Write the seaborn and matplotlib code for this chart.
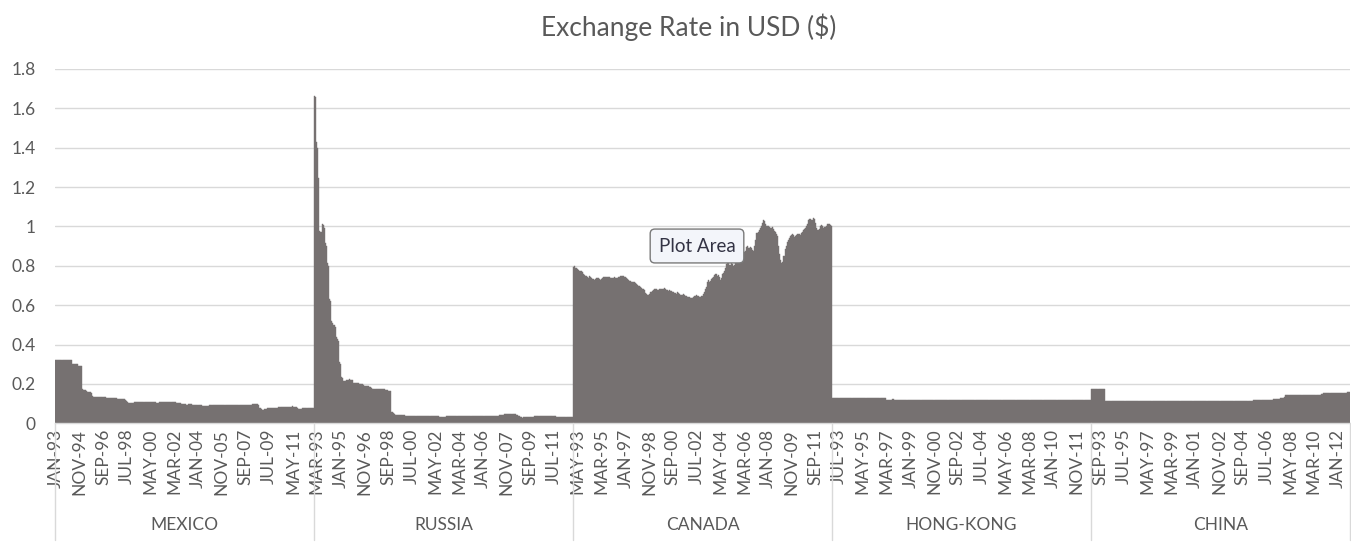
import numpy as np
import pandas as pd
import matplotlib.pyplot as plt
import matplotlib.transforms as mtransforms
import seaborn as sns

# monthly exchange rate in USD, Jan-93 .. Dec-12 (one row per year)
countries = ["MEXICO", "RUSSIA", "CANADA", "HONG-KONG", "CHINA"]

mexico = (
    [0.32] * 12
    + [0.32, 0.32, 0.32, 0.32, 0.30, 0.30, 0.30, 0.30, 0.30, 0.29, 0.29, 0.29]
    + [0.29, 0.175, 0.17, 0.17, 0.17, 0.165, 0.16, 0.16, 0.16, 0.155, 0.14, 0.135]
    + [0.135, 0.135, 0.134, 0.134, 0.134, 0.134, 0.134, 0.133, 0.133, 0.133, 0.132, 0.128]
    + [0.127, 0.127, 0.127, 0.127, 0.126, 0.126, 0.126, 0.126, 0.126, 0.125, 0.125, 0.125]
    + [0.125, 0.124, 0.124, 0.123, 0.121, 0.118, 0.115, 0.11, 0.105, 0.103, 0.103, 0.104]
    + [0.105, 0.106, 0.106, 0.107, 0.107, 0.107, 0.107, 0.108, 0.108, 0.108, 0.107, 0.107]
    + [0.107, 0.107, 0.107, 0.106, 0.106, 0.107, 0.107, 0.108, 0.108, 0.106, 0.105, 0.105]
    + [0.106, 0.106, 0.106, 0.108, 0.108, 0.109, 0.109, 0.108, 0.108, 0.107, 0.107, 0.108]
    + [0.108, 0.108, 0.108, 0.107, 0.104, 0.103, 0.102, 0.102, 0.101, 0.10, 0.10, 0.10]
    + [0.098, 0.095, 0.095, 0.096, 0.097, 0.097, 0.096, 0.095, 0.093, 0.092, 0.092, 0.092]
    + [0.092, 0.092, 0.092, 0.091, 0.09, 0.09, 0.09, 0.09, 0.09, 0.09, 0.09, 0.091]
    + [0.091, 0.092, 0.092, 0.092, 0.093, 0.093, 0.093, 0.094, 0.094, 0.094, 0.094, 0.094]
    + [0.094, 0.094, 0.093, 0.093, 0.093, 0.093, 0.093, 0.093, 0.093, 0.093, 0.093, 0.093]
    + [0.093] * 12
    + [0.094, 0.095, 0.095, 0.096, 0.098, 0.10, 0.10, 0.099, 0.095, 0.08, 0.077, 0.074]
    + [0.07, 0.069, 0.071, 0.074, 0.076, 0.076, 0.077, 0.077, 0.077, 0.077, 0.077, 0.078]
    + [0.079, 0.079, 0.08, 0.081, 0.081, 0.081, 0.081, 0.081, 0.081, 0.081, 0.082, 0.082]
    + [0.082, 0.083, 0.083, 0.085, 0.086, 0.085, 0.085, 0.083, 0.079, 0.075, 0.074, 0.074]
    + [0.075, 0.077, 0.078, 0.078, 0.077, 0.076, 0.076, 0.076, 0.077, 0.077, 0.077, 0.077]
)

russia = (
    [1.665, 1.66, 1.43, 1.40, 1.245, 0.975, 0.97, 1.01, 1.005, 0.99, 0.915, 0.90]
    + [0.815, 0.80, 0.63, 0.62, 0.52, 0.51, 0.50, 0.49, 0.44, 0.43, 0.42, 0.31]
    + [0.30, 0.235, 0.23, 0.215, 0.215, 0.215, 0.222, 0.222, 0.223, 0.222, 0.222, 0.22]
    + [0.207, 0.206, 0.205, 0.205, 0.204, 0.203, 0.202, 0.20, 0.198, 0.196, 0.192, 0.19]
    + [0.19, 0.19, 0.188, 0.186, 0.182, 0.178, 0.176, 0.175, 0.175, 0.175, 0.175, 0.175]
    + [0.175, 0.174, 0.174, 0.173, 0.172, 0.172, 0.17, 0.168, 0.168, 0.166, 0.165, 0.055]
    + [0.055, 0.05, 0.045, 0.04, 0.04, 0.04, 0.04, 0.04, 0.04, 0.04, 0.04, 0.04]
    + [0.038] * 12
    + [0.038, 0.038, 0.037, 0.037, 0.037, 0.037, 0.037, 0.037, 0.037, 0.037, 0.037, 0.037]
    + [0.036, 0.036, 0.036, 0.036, 0.036, 0.036, 0.036, 0.036, 0.032, 0.031, 0.031, 0.031]
    + [0.031, 0.032, 0.035, 0.036, 0.036, 0.036, 0.036, 0.036, 0.036, 0.036, 0.036, 0.036]
    + [0.037] * 12
    + [0.037] * 12
    + [0.037, 0.037, 0.038, 0.038, 0.038, 0.039, 0.039, 0.039, 0.039, 0.039, 0.039, 0.039]
    + [0.039, 0.039, 0.039, 0.04, 0.04, 0.04, 0.04, 0.04, 0.045, 0.045, 0.045, 0.045]
    + [0.045, 0.045, 0.045, 0.045, 0.045, 0.045, 0.045, 0.044, 0.042, 0.037, 0.035, 0.034]
    + [0.03, 0.029, 0.03, 0.031, 0.032, 0.033, 0.033, 0.034, 0.034, 0.034, 0.034, 0.034]
    + [0.035, 0.035, 0.035, 0.035, 0.035, 0.035, 0.035, 0.035, 0.035, 0.035, 0.035, 0.035]
    + [0.035, 0.035, 0.036, 0.036, 0.036, 0.036, 0.036, 0.035, 0.034, 0.034, 0.034, 0.034]
    + [0.034, 0.034, 0.034, 0.034, 0.034, 0.034, 0.034, 0.03, 0.03, 0.032, 0.033, 0.034]
)

canada = (
    [0.795, 0.80, 0.79, 0.79, 0.785, 0.78, 0.775, 0.775, 0.77, 0.76, 0.755, 0.75]
    + [0.75, 0.745, 0.74, 0.748, 0.745, 0.74, 0.735, 0.728, 0.732, 0.738, 0.74, 0.738]
    + [0.735, 0.73, 0.735, 0.74, 0.742, 0.745, 0.745, 0.742, 0.745, 0.745, 0.74, 0.74]
    + [0.738, 0.74, 0.742, 0.74, 0.738, 0.74, 0.742, 0.745, 0.748, 0.75, 0.748, 0.745]
    + [0.745, 0.74, 0.735, 0.728, 0.725, 0.722, 0.72, 0.72, 0.718, 0.715, 0.71, 0.705]
    + [0.70, 0.70, 0.69, 0.685, 0.682, 0.68, 0.675, 0.66, 0.655, 0.65, 0.655, 0.665]
    + [0.668, 0.672, 0.675, 0.68, 0.682, 0.68, 0.678, 0.678, 0.68, 0.682, 0.68, 0.68]
    + [0.685, 0.68, 0.678, 0.675, 0.672, 0.675, 0.672, 0.67, 0.668, 0.665, 0.66, 0.655]
    + [0.665, 0.66, 0.655, 0.65, 0.65, 0.652, 0.655, 0.65, 0.648, 0.645, 0.642, 0.64]
    + [0.636, 0.635, 0.638, 0.64, 0.645, 0.648, 0.65, 0.648, 0.645, 0.64, 0.642, 0.645]
    + [0.655, 0.668, 0.68, 0.69, 0.72, 0.73, 0.72, 0.725, 0.735, 0.74, 0.745, 0.755]
    + [0.76, 0.75, 0.755, 0.742, 0.73, 0.74, 0.76, 0.765, 0.775, 0.79, 0.81, 0.82]
    + [0.815, 0.805, 0.82, 0.81, 0.80, 0.805, 0.815, 0.825, 0.84, 0.85, 0.848, 0.86]
    + [0.87, 0.872, 0.868, 0.875, 0.895, 0.90, 0.89, 0.892, 0.895, 0.89, 0.88, 0.875]
    + [0.90, 0.93, 0.965, 0.97, 0.98, 0.99, 1.00, 1.02, 1.035, 1.03, 1.01, 1.00]
    + [1.00, 1.00, 0.995, 0.99, 0.995, 0.985, 0.975, 0.97, 0.96, 0.95, 0.90, 0.86]
    + [0.83, 0.815, 0.82, 0.85, 0.885, 0.90, 0.92, 0.93, 0.94, 0.95, 0.955, 0.96]
    + [0.955, 0.945, 0.95, 0.955, 0.96, 0.96, 0.955, 0.965, 0.97, 0.98, 0.985, 0.99]
    + [1.00, 1.01, 1.035, 1.04, 1.04, 1.035, 1.045, 1.04, 1.02, 0.99, 0.98, 0.98]
    + [0.985, 1.00, 1.005, 1.00, 0.99, 0.995, 1.00, 1.01, 1.015, 1.01, 1.005, 1.00]
)

hong_kong = (
    [0.129] * 12
    + [0.129] * 12
    + [0.129] * 12
    + [0.129] * 12
    + [0.129, 0.129, 0.12, 0.12, 0.12, 0.12, 0.12, 0.12, 0.122, 0.12, 0.12, 0.12]
    + [0.12] * 12 * 15
)

china = (
    [0.172] * 12
    + [0.172] + [0.113] * 11
    + [0.113] * 12 * 10
    + [0.113, 0.113, 0.113, 0.113, 0.113, 0.113, 0.116, 0.117, 0.117, 0.117, 0.118, 0.118]
    + [0.118, 0.118, 0.118, 0.119, 0.119, 0.119, 0.119, 0.119, 0.119, 0.12, 0.12, 0.12]
    + [0.12, 0.122, 0.123, 0.124, 0.125, 0.125, 0.125, 0.126, 0.126, 0.128, 0.13, 0.135]
    + [0.142, 0.142, 0.143, 0.143, 0.143, 0.144, 0.144, 0.144, 0.144, 0.144, 0.144, 0.144]
    + [0.144] * 12
    + [0.144, 0.144, 0.144, 0.144, 0.144, 0.145, 0.145, 0.146, 0.146, 0.147, 0.148, 0.152]
    + [0.152, 0.152, 0.153, 0.153, 0.153, 0.153, 0.154, 0.154, 0.155, 0.155, 0.155, 0.156]
    + [0.156, 0.156, 0.156, 0.156, 0.156, 0.156, 0.156, 0.156, 0.156, 0.157, 0.157, 0.157]
)

tick_labels = [
    ["JAN-93", "NOV-94", "SEP-96", "JUL-98", "MAY-00", "MAR-02", "JAN-04", "NOV-05", "SEP-07", "JUL-09", "MAY-11"],
    ["MAR-93", "JAN-95", "NOV-96", "SEP-98", "JUL-00", "MAY-02", "MAR-04", "JAN-06", "NOV-07", "SEP-09", "JUL-11"],
    ["MAY-93", "MAR-95", "JAN-97", "NOV-98", "SEP-00", "JUL-02", "MAY-04", "MAR-06", "JAN-08", "NOV-09", "SEP-11"],
    ["JUL-93", "MAY-95", "MAR-97", "JAN-99", "NOV-00", "SEP-02", "JUL-04", "MAY-06", "MAR-08", "JAN-10", "NOV-11"],
    ["SEP-93", "JUL-95", "MAY-97", "MAR-99", "JAN-01", "NOV-02", "SEP-04", "JUL-06", "MAY-08", "MAR-10", "JAN-12"],
]

series = [mexico, russia, canada, hong_kong, china]
for s in series:
    assert len(s) == 240, len(s)

df = pd.DataFrame({
    "pos": np.arange(240 * len(series)),
    "rate": np.concatenate(series),
    "country": np.repeat(countries, 240),
})

sns.set_theme(style="white")
plt.rcParams["font.family"] = ["Lato", "DejaVu Sans"]
text_color = "#595959"
grid_color = "#d9d9d9"
bar_color = "#767171"

fig = plt.figure(figsize=(13.51, 5.44), dpi=100)
ax = fig.add_axes([55 / 1351, (544 - 423.3) / 544, 1295 / 1351, 354.3 / 544])

sns.barplot(data=df, x="pos", y="rate", native_scale=True, width=1.0,
            color=bar_color, saturation=1, errorbar=None,
            edgecolor=bar_color, linewidth=0.3, ax=ax)

ax.set_xlim(-0.5, len(df) - 0.5)
ax.set_ylim(0, 1.8)
yt = np.round(np.arange(0, 1.81, 0.2), 1)
ax.set_yticks(yt)
ax.set_yticklabels([f"{v:g}" for v in yt], color=text_color, fontsize=12.5)
ax.set_xticks(np.arange(0, len(df), 22))
ax.set_xticklabels(sum(tick_labels, []), rotation=90, color=text_color, fontsize=12.5)
ax.tick_params(axis="y", length=0, pad=14)
ax.tick_params(axis="x", length=0, pad=4)
ax.set_xlabel("")
ax.set_ylabel("")

ax.yaxis.grid(True, color=grid_color, lw=1)
ax.set_axisbelow(True)
for side in ["top", "right", "left"]:
    ax.spines[side].set_visible(False)
ax.spines["bottom"].set_color(grid_color)
ax.spines["bottom"].set_linewidth(1)

# group separators and country labels under the month labels
trans = mtransforms.blended_transform_factory(ax.transData, ax.transAxes)
for i, name in enumerate(countries):
    left = i * 240 - 0.5
    ax.plot([left, left], [0, -0.33], transform=trans, color=grid_color,
            lw=1, clip_on=False)
    ax.text(left + 120, -0.287, name, transform=trans, ha="center",
            va="center", color=text_color, fontsize=12.5)
ax.plot([len(df) - 0.5] * 2, [0, -0.33], transform=trans, color=grid_color,
        lw=1, clip_on=False)

fig.text(0.51, 1 - 27 / 544, "Exchange Rate in USD ($)", ha="center",
         va="center", color=text_color, fontsize=19)

# Excel hover tooltip visible in the screenshot
fig.text(697 / 1351, 1 - 246 / 544, "Plot Area", ha="center", va="center",
         color="#333344", fontsize=13.5, zorder=10,
         bbox=dict(boxstyle="round,pad=0.45,rounding_size=0.25",
                   facecolor="#f3f5fa", edgecolor="#7a7a7a", lw=1))

fig.savefig("out.png", dpi=100)
